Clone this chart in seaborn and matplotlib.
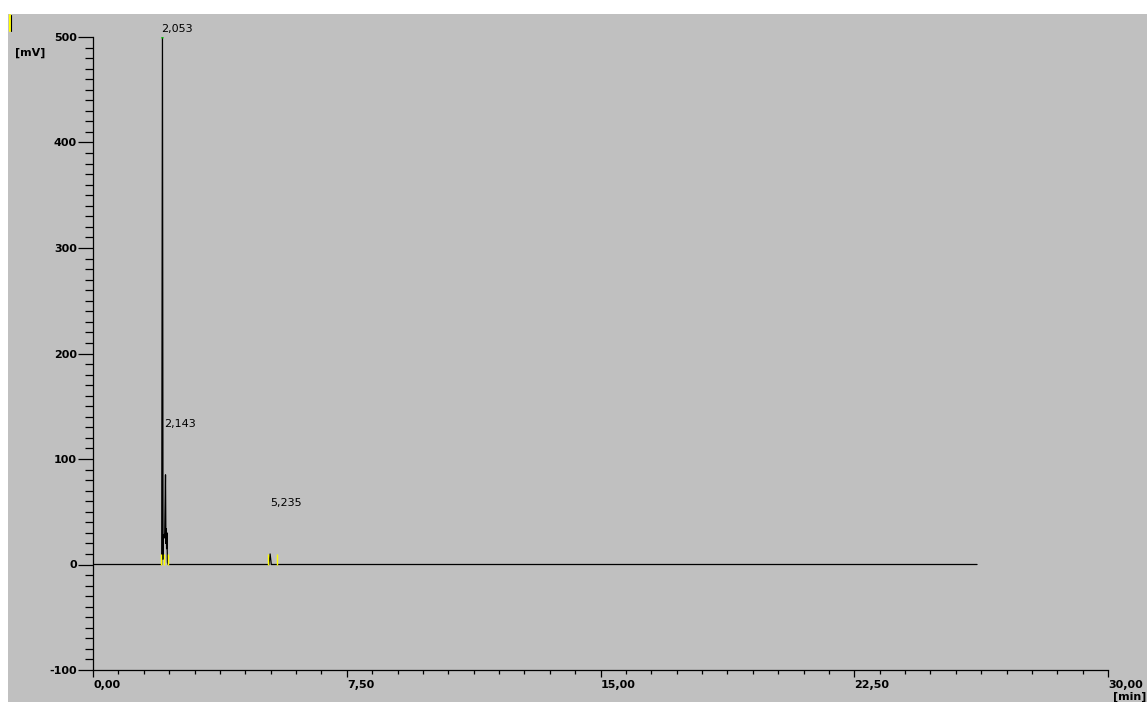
import matplotlib
matplotlib.use("Agg")
import matplotlib.pyplot as plt
from matplotlib.lines import Line2D
from matplotlib.patches import Rectangle
from matplotlib.ticker import MultipleLocator, FixedLocator
import seaborn as sns
import pandas as pd

# ---- data ----
time_min = [0.0, 2.030, 2.053, 2.070, 2.080, 2.100, 2.120, 2.143, 2.155, 2.165,
            2.175, 2.185, 2.200, 2.220, 5.200, 5.235, 5.270, 26.13]
signal_mv = [0.0, 0.0, 500.0, 5.0, 28.0, 25.0, 30.0, 85.0, 20.0, 34.0,
             15.0, 30.0, 2.0, 0.0, 0.0, 10.0, 0.0, 0.0]

peak_labels = ["2,053", "2,143", "5,235"]
peak_label_t = [2.01, 2.10, 5.23]
peak_label_y = [508, 133, 58]

marker_t = [2.01, 2.10, 2.22, 5.16, 5.43]
marker_h = [10, 10, 10, 10, 10]

xticks = [0, 7.5, 15, 22.5, 30]
xtick_labels = ["0,00", "7,50", "15,00", "22,50", "30,00"]
yticks = [-100, 0, 100, 200, 300, 400, 500]

df = pd.DataFrame({"t": time_min, "mV": signal_mv})

sns.set_style("white")
plt.rcParams['font.family'] = ['DejaVu Sans']
plt.rcParams['text.color'] = 'black'
plt.rcParams['xtick.color'] = 'black'
plt.rcParams['ytick.color'] = 'black'

W, H = 1147, 702
fig = plt.figure(figsize=(W / 100, H / 100), dpi=100, facecolor="white")
fig.patches.append(Rectangle((8 / W, 0), 1 - 8 / W, (H - 14) / H,
                             transform=fig.transFigure, facecolor="#c0c0c0",
                             edgecolor="none", zorder=-10))
# small yellow marker at top-left corner
fig.lines.append(Line2D([9.5 / W, 9.5 / W], [(H - 15) / H, (H - 31) / H],
                        transform=fig.transFigure, color="#ffff00", lw=1.5, zorder=-5))
fig.lines.append(Line2D([11 / W, 11 / W], [(H - 15) / H, (H - 31) / H],
                        transform=fig.transFigure, color="black", lw=0.8, zorder=-5))

ax = fig.add_axes([93 / W, (H - 670) / H, (1108 - 93) / W, (670 - 37) / H])
ax.set_facecolor("none")
ax.set_zorder(1)

sns.lineplot(data=df, x="t", y="mV", ax=ax, sort=False, estimator=None,
             color="black", lw=0.9, legend=False)
ax.vlines(marker_t, 0, marker_h, color="#ffff00", lw=1.0, zorder=3)
ax.plot([2.053], [500], marker="s", ms=1.5, color="#00c000", mec="none")

for lab, tx, ty in zip(peak_labels, peak_label_t, peak_label_y):
    ax.text(tx, ty, lab, fontsize=8, ha="left", va="center", color="black",
            clip_on=False)

ax.set_xlim(0, 30)
ax.set_ylim(-100, 500)
ax.xaxis.set_major_locator(FixedLocator(xticks))
ax.set_xticklabels(xtick_labels)
ax.xaxis.set_minor_locator(MultipleLocator(0.75))
ax.yaxis.set_major_locator(FixedLocator(yticks))
ax.set_yticklabels([str(v) for v in yticks])
ax.yaxis.set_minor_locator(MultipleLocator(10))

for s in ["top", "right"]:
    ax.spines[s].set_visible(False)
for s in ["left", "bottom"]:
    ax.spines[s].set_color("black")
    ax.spines[s].set_linewidth(0.9)

ax.tick_params(axis="y", which="major", direction="out", length=11, width=0.9,
               pad=0.5, labelsize=8, color="black", labelcolor="black", left=True)
ax.tick_params(axis="y", which="minor", direction="out", length=5.5, width=0.9,
               color="black", left=True)
ax.tick_params(axis="x", which="major", direction="out", length=5, width=0.9,
               pad=2, labelsize=8, color="black", labelcolor="black", bottom=True)
ax.tick_params(axis="x", which="minor", direction="out", length=3, width=0.9,
               color="black", bottom=True)
for lab in ax.get_yticklabels():
    lab.set_fontweight("bold")
for lab in ax.get_xticklabels():
    lab.set_fontweight("bold")
    lab.set_ha("left")

ax.set_xlabel("")
ax.set_ylabel("")

fig.text(15 / W, 1 - 53 / H, "[mV]", fontsize=8, fontweight="bold",
         ha="left", va="center", color="black")
fig.text(1146 / W, 1 - 697 / H, "[min]", fontsize=8, fontweight="bold",
         ha="right", va="center", color="black")

fig.savefig("out.png", dpi=100, facecolor="white")
